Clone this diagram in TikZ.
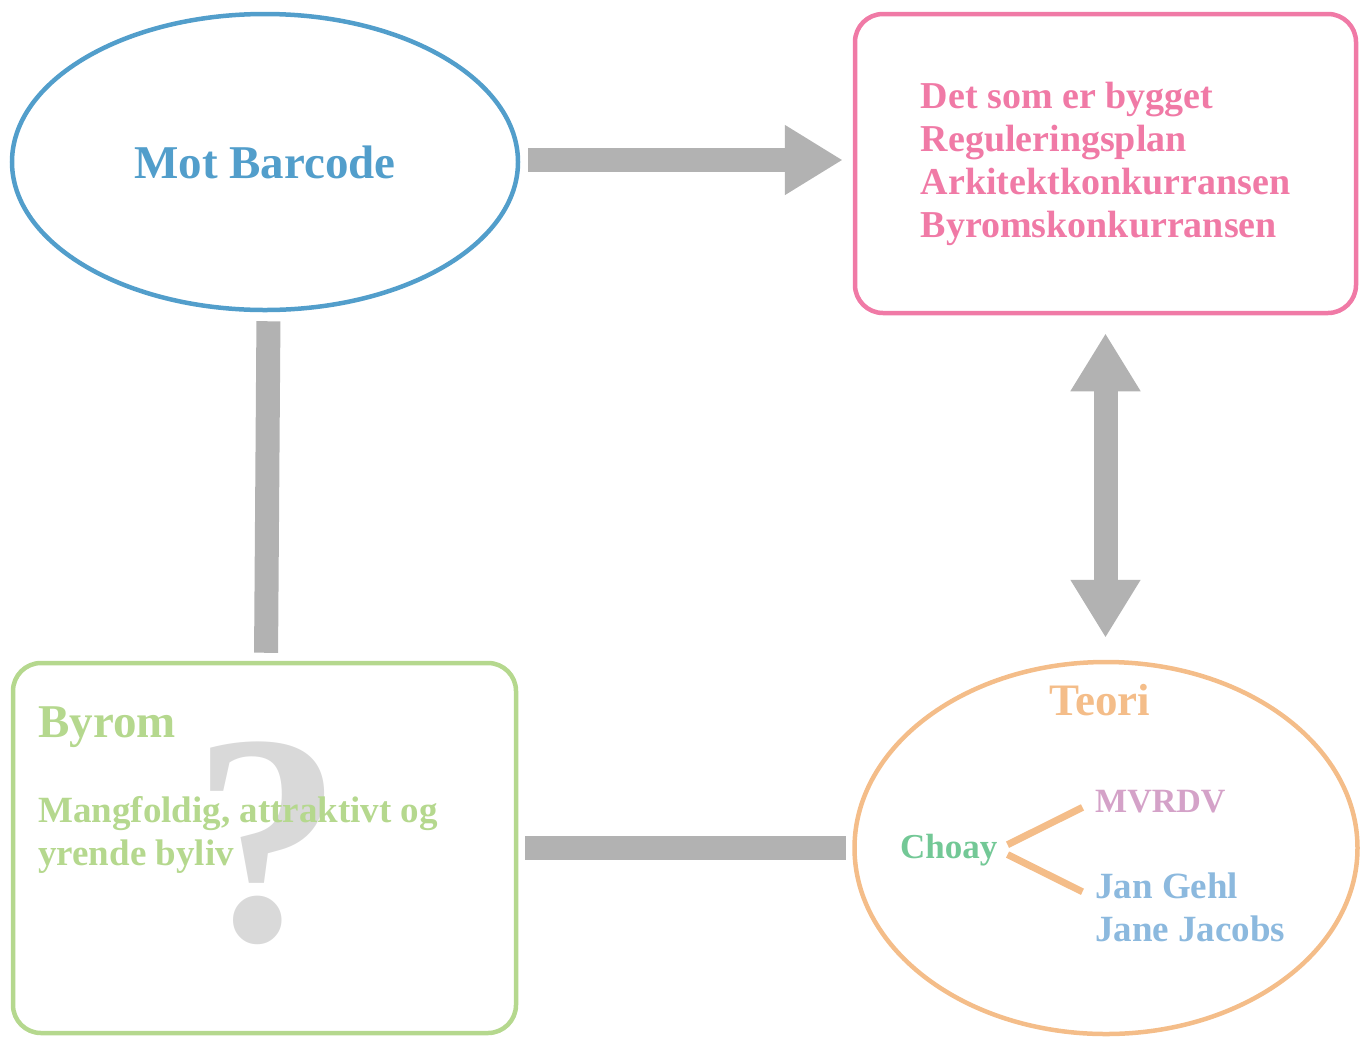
\documentclass[tikz,border=0pt]{standalone}
\usepackage{fontspec}
\setmainfont{Liberation Serif}
\usetikzlibrary{shapes.geometric,arrows.meta}
\definecolor{motblue}{RGB}{82,158,203}
\definecolor{planpink}{RGB}{240,122,166}
\definecolor{byromgreen}{RGB}{181,216,142}
\definecolor{teoriorange}{RGB}{244,189,137}
\definecolor{bargray}{RGB}{178,178,178}
\definecolor{qgray}{RGB}{217,217,217}
\definecolor{choaygreen}{RGB}{115,200,150}
\definecolor{mvrdvpink}{RGB}{212,162,200}
\definecolor{nameblue}{RGB}{140,185,222}
\tikzset{bigtip/.tip={Triangle[length=58pt,width=66pt]}}
\begin{document}
\begin{tikzpicture}[x=1pt,y=-1pt,
  frame/.style={line width=4.5pt,inner sep=0pt},
  roundbox/.style={frame,rectangle,rounded corners=28pt},
  oval/.style={frame,ellipse},
  big/.style={font=\fontsize{47}{55}\selectfont\bfseries},
  small/.style={font=\fontsize{38}{43}\selectfont\bfseries},
  bar/.style={draw=bargray,line width=24pt},
  fork/.style={draw=teoriorange,line width=7pt,shorten <=11pt,shorten >=14pt}]
\useasboundingbox (0,0) rectangle (1370,1037);
% the four corners
\draw (265,162) node[oval,draw=motblue,minimum width=506pt,minimum height=296pt,text=motblue,big] (mot) {Mot Barcode};
\draw (1105.5,163.5) node[roundbox,draw=planpink,minimum width=501pt,minimum height=299pt,text=planpink,small,align=left] (plan) {Det som er bygget\\Reguleringsplan\\Arkitektkonkurransen\\Byromskonkurransen};
\draw (264.5,848) node[roundbox,draw=byromgreen,minimum width=503pt,minimum height=370pt] (byrom) {};
\draw (1106,848) node[oval,draw=teoriorange,minimum width=503pt,minimum height=372pt] (teori) {};
% byrom
\draw (267,843) node[text=qgray,font=\fontsize{300}{300}\selectfont\bfseries] (qmark) {?};
\draw (38,737) node[anchor=base west,inner sep=0pt,text=byromgreen,big] (byromtitle) {Byrom};
\draw (38,796) node[anchor=north west,inner sep=0pt,text=byromgreen,font=\fontsize{37}{43}\selectfont\bfseries,align=left] (byrombody) {Mangfoldig, attraktivt og\\yrende byliv};
% teori
\draw (1100,715) node[anchor=base,inner sep=0pt,text=teoriorange,font=\fontsize{45}{54}\selectfont\bfseries] (teorititle) {Teori};
\draw (900,858) node[anchor=base west,inner sep=0pt,text=choaygreen,font=\fontsize{35}{43}\selectfont\bfseries] (choay) {Choay};
\draw (1095,812) node[anchor=base west,inner sep=0pt,text=mvrdvpink,font=\fontsize{34}{43}\selectfont\bfseries] (mvrdv) {MVRDV};
\draw (1095,873) node[anchor=north west,inner sep=0pt,text=nameblue,font=\fontsize{37}{43}\selectfont\bfseries,align=left] (names) {Jan Gehl\\Jane Jacobs};
\draw[fork] (choay.east) -- (mvrdv.west);
\draw[fork] (choay.east) -- ([yshift=-25pt]names.north west);
% connectors
\draw[bar,-bigtip,shorten <=8pt,shorten >=10pt] ([yshift=2pt]mot.east) -- ([yshift=2pt]mot.east -| plan.west);
\draw[bar,bigtip-bigtip,shorten <=18pt,shorten >=22pt] (plan.south) -- (plan.south |- teori.north);
\draw[bar,shorten <=9pt,shorten >=8pt] ([xshift=3.5pt]mot.south) -- ([xshift=1.5pt]byrom.north);
\draw[bar,shorten <=7pt,shorten >=6pt] (byrom.east) -- (teori.west);
\end{tikzpicture}
\end{document}
